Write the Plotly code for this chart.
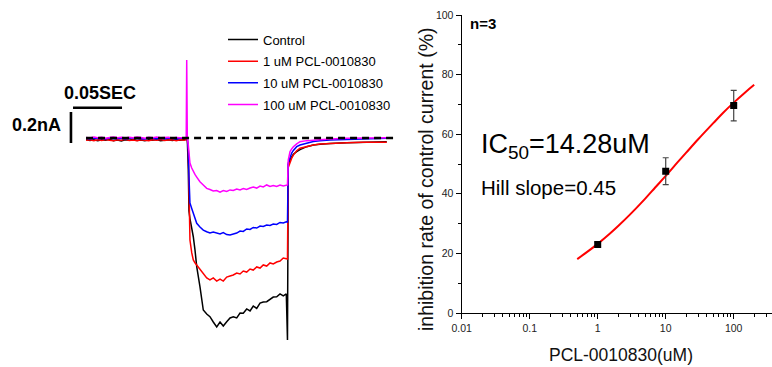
import plotly.graph_objects as go

# ---------------- Left panel: whole-cell current traces ----------------
# time in ms relative to the depolarising step, current in pA
time_pre = [-104, -100, -96, -92, -88, -84, -80, -76, -72, -68, -64, -60, -56,
            -52, -48, -44, -40, -36, -32, -28, -24, -20, -16, -12, -8, -4,
            -1.8, -1.3, -0.7]
time_pulse = [0.3, 1.0, 2.0, 3.8, 5.4, 7.1, 8.9, 12.2, 15.6, 19.1, 22.4, 25.8,
              29.3, 32.7, 36.0, 39.5, 42.9, 46.2, 49.7, 53.1, 56.4, 59.9, 63.3,
              66.6, 70.1, 73.5, 76.8, 80.3, 83.7, 87.0, 90.5, 93.9, 97.2,
              100.3, 101.5]
time_tail = [102.3, 104.1, 105.8, 107.5, 110.9, 114.3, 121.1, 127.9, 134.7,
             144.9, 161.9, 178.9, 190.0, 202.8]

control_pA = ([-10, -16, -12, -18, -11, -15, -9, -17, -13, -19, -12, -14, -8, -16,
               -13, -18, -11, -15, -10, -17, -14, -12, -16, -11, -15, -13, -12, -10, -8]
              + [-200, -470, -520, -580, -637, -720, -830, -959, -1110, -1136, -1153,
                 -1187, -1219, -1187, -1213, -1185, -1161, -1153, -1161, -1129, -1131,
                 -1103, -1116, -1084, -1099, -1065, -1058, -1056, -1039, -1026, -1024,
                 -1006, -1019, -1006, -1303]
              + [-170, -140, -121, -105, -88, -75, -56, -45, -41, -35, -30, -28, -26, -24])
pcl_1uM_pA = ([-15, -11, -17, -12, -16, -10, -14, -18, -12, -15, -9, -16, -13, -17,
               -11, -14, -18, -12, -15, -10, -16, -13, -11, -17, -12, -14, -13, -11, -9]
              + [-77, -300, -658, -740, -787, -805, -819, -852, -877, -903, -916, -903,
                 -923, -910, -923, -897, -890, -884, -871, -877, -858, -865, -845, -852,
                 -832, -839, -819, -826, -806, -813, -800, -794, -774, -781, -781]
              + [-190, -153, -130, -110, -82, -66, -55, -45, -39, -34, -30, -28, -29, -28])
pcl_10uM_pA = ([-1, -6, 0, -4, -2, -7, 1, -5, -3, -1, -6, -2, 2, -4, -3, -6, 0, -2,
                -5, -1, -4, 0, -3, -6, -2, -4, -3, -2, 0]
               + [-77, -250, -419, -455, -486, -529, -550, -574, -594, -605, -613, -606,
                  -615, -619, -610, -623, -626, -619, -613, -600, -603, -587, -590, -577,
                  -581, -568, -571, -561, -564, -555, -558, -545, -548, -540, -542]
               + [-160, -120, -97, -80, -56, -45, -34, -23, -18, -13, -10, -5, -4, -2])
pcl_100uM_pA = ([4, 0, 6, 2, 5, -1, 3, 7, 1, 4, 0, 5, 2, 6, 3, -1, 4, 2, 6, 1, 3, 5,
                 0, 4, 2, 3, 3, 503, 0]
                + [-45, -110, -161, -194, -217, -235, -252, -282, -303, -325, -332, -342,
                   -339, -350, -339, -345, -335, -339, -329, -335, -326, -332, -323, -316,
                   -323, -310, -316, -303, -313, -306, -313, -303, -310, -306, -303]
                + [-142, -88, -70, -56, -38, -24, -17, -13, -9, -6, -2, 0, 1, 1])

trace_names = ["Control", "1 uM PCL-0010830", "10 uM PCL-0010830", "100 uM PCL-0010830"]
trace_colors = ["#000000", "#ff0000", "#0000ff", "#ff00ff"]

baseline_t = [-104, 212]
baseline_i = [0, 0]

scalebar_time_ms = 50      # 0.05 SEC
scalebar_current_pA = 200  # 0.2 nA
scalebar_label_t = "0.05SEC"
scalebar_label_i = "0.2nA"

# ---------------- Right panel: concentration-response ----------------
conc_uM = [1, 10, 100]
inhibition_pct = [23.0, 47.6, 69.6]
inhibition_err = [0.8, 4.5, 5.1]
fit_conc_uM = [0.5, 0.7, 1, 1.5, 2, 3, 5, 7, 10, 15, 20, 30, 50, 70, 100, 150, 200]
fit_inhibition_pct = [18.1, 20.5, 23.2, 26.6, 29.2, 33.1, 38.4, 42.1, 46.0, 50.6,
                      53.8, 58.3, 63.7, 67.2, 70.6, 74.2, 76.6]
x_ticks = [0.01, 0.1, 1, 10, 100]
x_tick_labels = ["0.01", "0.1", "1", "10", "100"]
x_minor_ticks = [m * d for d in (0.01, 0.1, 1, 10, 100) for m in range(2, 10)]
y_ticks = [0, 20, 40, 60, 80, 100]
y_minor_ticks = [10, 30, 50, 70, 90]

FONT = "Liberation Sans, Arial, sans-serif"

W, H = 772, 367
fig = go.Figure()

time_all = time_pre + time_pulse + time_tail
for k, (name, color, vals) in enumerate(zip(trace_names, trace_colors,
                                            [control_pA, pcl_1uM_pA, pcl_10uM_pA, pcl_100uM_pA])):
    fig.add_trace(go.Scatter(x=time_all, y=vals, mode="lines", name=name,
                             legendgroup="g%d" % k,
                             line=dict(color=color, width=1.5),
                             xaxis="x", yaxis="y"))

fig.add_trace(go.Scatter(x=baseline_t, y=baseline_i, mode="lines", showlegend=False,
                         line=dict(color="black", width=2.6, dash="7px,5px"),
                         xaxis="x", yaxis="y"))

# right panel
fig.add_trace(go.Scatter(x=fit_conc_uM, y=fit_inhibition_pct, mode="lines",
                         line=dict(color="#ff0000", width=2, shape="spline"),
                         showlegend=False, xaxis="x2", yaxis="y2"))
fig.add_trace(go.Scatter(x=conc_uM, y=inhibition_pct, mode="markers",
                         marker=dict(symbol="square", size=7, color="black"),
                         error_y=dict(type="data", array=inhibition_err, color="#444",
                                      thickness=1.2, width=3),
                         showlegend=False, xaxis="x2", yaxis="y2"))

# scale bars (data coordinates of left panel)
sb_t0, sb_y = -117.3, 195.5
sb_vx, sb_v0 = -119.4, -32.3
shapes = [
    dict(type="line", xref="x", yref="y", x0=sb_t0, x1=sb_t0 + scalebar_time_ms,
         y0=sb_y, y1=sb_y, line=dict(color="black", width=2.6)),
    dict(type="line", xref="x", yref="y", x0=sb_vx, x1=sb_vx,
         y0=sb_v0, y1=sb_v0 + scalebar_current_pA, line=dict(color="black", width=2.6)),
]

annotations = [
    dict(text="<b>%s</b>" % scalebar_label_t, xref="x", yref="y", x=-89.3, y=290,
         showarrow=False, xanchor="center", yanchor="middle",
         font=dict(family=FONT, size=18, color="black")),
    dict(text="<b>%s</b>" % scalebar_label_i, xref="x", yref="y", x=-127.2, y=87,
         showarrow=False, xanchor="right", yanchor="middle",
         font=dict(family=FONT, size=18, color="black")),
    dict(text="<b>n=3</b>", xref="paper", yref="paper", x=468 / W, y=1 - 24 / H,
         showarrow=False, xanchor="left", yanchor="middle",
         font=dict(family=FONT, size=15, color="black")),
    dict(text="IC<sub>50</sub>=14.28uM", xref="paper", yref="paper", x=479 / W,
         y=1 - 146 / H, showarrow=False, xanchor="left", yanchor="middle",
         font=dict(family=FONT, size=27, color="black")),
    dict(text="Hill slope=0.45", xref="paper", yref="paper", x=479 / W, y=1 - 187 / H,
         showarrow=False, xanchor="left", yanchor="middle",
         font=dict(family=FONT, size=20.5, color="black")),
    dict(text="inhibition rate of control current (%)", xref="paper", yref="paper",
         x=426 / W, y=1 - 179 / H, textangle=-90, showarrow=False,
         xanchor="center", yanchor="middle",
         font=dict(family=FONT, size=19.5, color="#111")),
    dict(text="PCL-0010830(uM)", xref="paper", yref="paper", x=621 / W, y=1 - 355 / H,
         showarrow=False, xanchor="center", yanchor="middle",
         font=dict(family=FONT, size=17.5, color="#111")),
]

fig.update_layout(
    width=W, height=H, margin=dict(l=0, r=0, t=0, b=0, pad=0, autoexpand=False),
    paper_bgcolor="white", plot_bgcolor="rgba(0,0,0,0)",
    showlegend=True,
    legend=dict(x=223 / W, y=1 - 24.5 / H, xanchor="left", yanchor="top",
                bgcolor="rgba(0,0,0,0)", font=dict(family=FONT, size=13, color="black"),
                itemwidth=30, tracegroupgap=1.8),
    xaxis=dict(domain=[0, 405 / W], range=[-191.8, 221.4], visible=False, fixedrange=True),
    yaxis=dict(domain=[0, 1], range=[-1477.4, 890.3], visible=False, fixedrange=True),
    xaxis2=dict(domain=[461.7 / W, 1.0], type="log", range=[-2, 2.563], anchor="y2",
                showline=True, linecolor="black", linewidth=1.3, showgrid=False,
                zeroline=False, ticks="outside", ticklen=5, tickwidth=1.1, tickcolor="black",
                tickvals=x_ticks, ticktext=x_tick_labels,
                tickfont=dict(family=FONT, size=10.5, color="#222"),
                minor=dict(ticks="outside", ticklen=2.5, tickwidth=1, tickcolor="black",
                           tickvals=x_minor_ticks, showgrid=False),
                fixedrange=True),
    yaxis2=dict(domain=[(H - 313) / H, (H - 15) / H], range=[0, 100], anchor="x2",
                showline=True, linecolor="black", linewidth=1.3, showgrid=False,
                zeroline=False, ticks="outside", ticklen=5, tickwidth=1.1, tickcolor="black",
                tickvals=y_ticks, tickfont=dict(family=FONT, size=10.5, color="#222"),
                minor=dict(ticks="outside", ticklen=2.5, tickwidth=1, tickcolor="black",
                           tickvals=y_minor_ticks, showgrid=False),
                fixedrange=True),
    shapes=shapes, annotations=annotations,
)

fig.write_html("out.html")
